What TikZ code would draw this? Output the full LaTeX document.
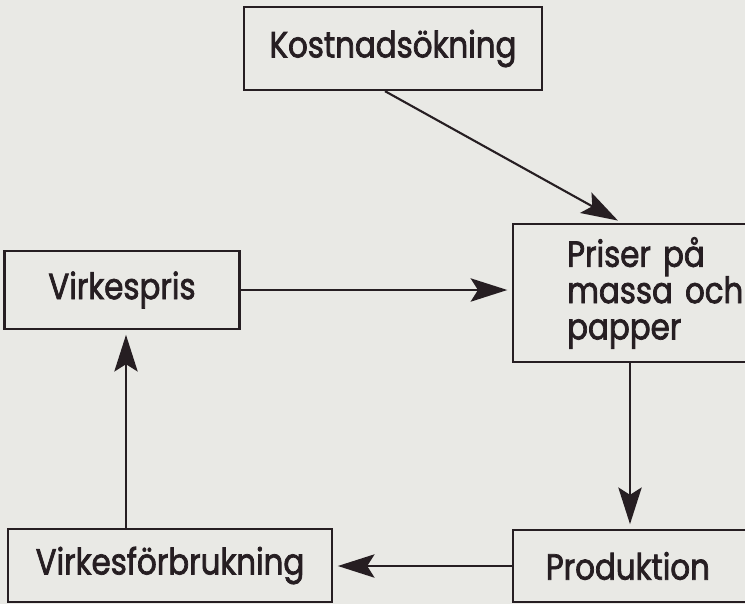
\documentclass[tikz,border=0pt]{standalone}
\usepackage{fontspec}
\setmainfont{Poppins}[FakeStretch=0.85, FakeBold=2, WordSpace=0.8]
\usetikzlibrary{arrows.meta,positioning,calc}

\definecolor{paper}{RGB}{233,233,229}
\definecolor{ink}{RGB}{38,30,34}

\begin{document}
\begin{tikzpicture}[
    x=0.03cm, y=-0.03cm,
    box/.style={draw=ink, line width=2pt, text=ink, align=center, font=\fontsize{31}{31}\selectfont},
    arr/.style={draw=ink, line width=1.8pt, -{Stealth[length=1.1cm, width=0.7cm, inset=0.22cm]}, shorten >=4pt}
]
\fill[paper] (0,0) rectangle (745,604);
\useasboundingbox (0,0) rectangle (745,604);
\clip (0,0) rectangle (745,604);

\node[box, minimum width=8.94cm, minimum height=2.49cm] (kost) at (393,48.5) {Kostnadsökning};
\node[box, minimum width=7.05cm, minimum height=2.34cm] (pris) at (122,290) {Virkespris};
\node[box, anchor=west, minimum height=4.14cm, inner xsep=1.62cm, text width=5.5cm, align=left] (priser) at (512,293) {Priser på\\massa och\\papper};
\node[box, minimum width=9.72cm, minimum height=2.19cm] (forbr) at (170,565.5) {Virkesförbrukning};
\node[box, anchor=west, minimum height=2.16cm, inner xsep=0.98cm, text width=6cm, align=left] (prod) at (512,566) {Produktion};

\draw[arr] ([xshift=-0.24cm]kost.south) -- ([xshift=3.3cm]priser.north west);
\draw[arr] (pris.east) -- (pris.east -| priser.west);
\draw[arr] ([xshift=3.54cm]priser.south west) -- ([xshift=3.54cm]prod.north west);
\draw[arr] (prod.west) -- (prod.west -| forbr.east);
\draw[arr] ([xshift=0.12cm]pris.south |- forbr.north) -- ([xshift=0.12cm]pris.south);
\end{tikzpicture}
\end{document}
